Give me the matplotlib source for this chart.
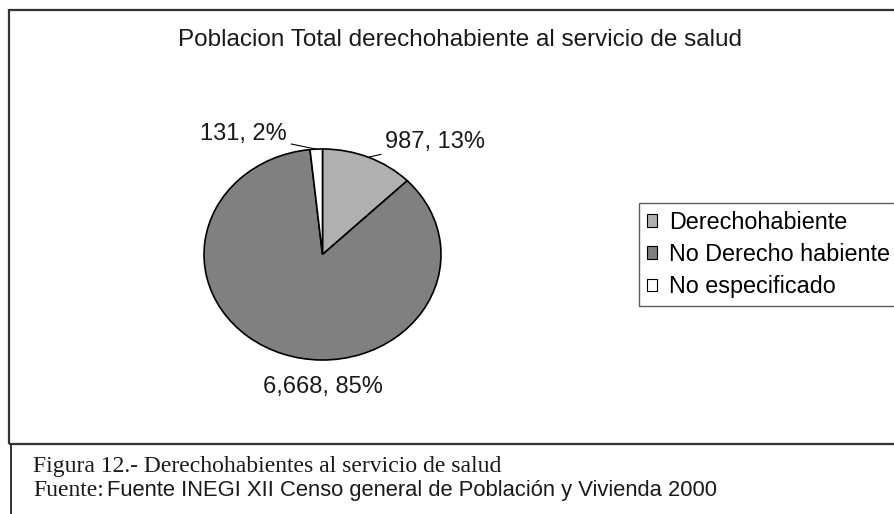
import matplotlib
matplotlib.use("Agg")
import matplotlib.pyplot as plt
import numpy as np
from matplotlib.patches import Rectangle
from matplotlib.lines import Line2D

# ---- data ----
categories = ["Derechohabiente", "No Derecho habiente", "No especificado"]
values = [987, 6668, 131]
pct_labels = ["13%", "85%", "2%"]
colors = ["#b0b0b0", "#808080", "#ffffff"]
title = "Poblacion Total derechohabiente al servicio de salud"
caption1 = "Figura 12.- Derechohabientes al servicio de salud"
caption2_a = "Fuente:"
caption2_b = "Fuente INEGI XII Censo general de Población y Vivienda 2000"

W, H = 895, 514
fig = plt.figure(figsize=(W / 100, H / 100), dpi=100)
fig.patch.set_facecolor("white")

def fx(px):
    return px / W

def fy(py):
    return 1 - py / H

SANS = "Liberation Sans"
SERIF = "Liberation Serif"
TXT = "#1a1a1a"

# chart frame
fig.add_artist(Rectangle((fx(9), fy(444)), fx(900) - fx(9), fy(10) - fy(444),
                         transform=fig.transFigure, fill=False,
                         edgecolor="#333333", lw=1.6, zorder=5))
# caption box left edge
fig.add_artist(Line2D([fx(11), fx(11)], [fy(444), fy(520)],
                      transform=fig.transFigure, color="#333333", lw=1.4))

# title
fig.text(fx(460), fy(40), title, ha="center", va="center",
         fontsize=17.5, family=SANS, color=TXT)

# pie
ax = fig.add_axes([fx(204), fy(360), fx(441) - fx(204), fy(149) - fy(360)])
wedges, _ = ax.pie(values, colors=colors, startangle=90, counterclock=False,
                   wedgeprops=dict(edgecolor="black", linewidth=1.2))
ax.set_aspect("auto")
ax.set_xlim(-1, 1)
ax.set_ylim(-1, 1)
ax.axis("off")

total = float(sum(values))
fracs = np.array(values) / total
start = 90.0
mids = []
for f in fracs:
    mids.append(np.deg2rad(start - f * 360 / 2))
    start -= f * 360

def lab(i):
    return f"{values[i]:,}, {pct_labels[i]}"

label_pos = [(0.53, 1.07, "left"), (0.0, -1.26, "center"), (-0.30, 1.14, "right")]
for i, (tx, ty, ha) in enumerate(label_pos):
    ex, ey = np.cos(mids[i]), np.sin(mids[i])
    if i == 1:
        ax.text(tx, ty, lab(i), ha=ha, va="center", fontsize=17,
                family=SANS, color=TXT, clip_on=False)
    else:
        ax.annotate(lab(i), xy=(ex, ey), xytext=(tx, ty), ha=ha, va="center",
                    fontsize=17, family=SANS, color=TXT,
                    annotation_clip=False,
                    arrowprops=dict(arrowstyle="-", color="black", lw=0.8,
                                    shrinkA=1, shrinkB=0))

# legend
leg = fig.legend(wedges, categories, loc="upper left",
                 bbox_to_anchor=(fx(639), fy(203)), frameon=True,
                 fancybox=False, shadow=False, prop=dict(family=SANS, size=16.8),
                 handlelength=0.45, handleheight=0.45, handletextpad=0.5,
                 labelspacing=0.4, borderpad=0.33, borderaxespad=0)
leg.get_frame().set_edgecolor("#333333")
leg.get_frame().set_linewidth(1.0)
for h in leg.legend_handles:
    h.set_linewidth(0.8)

# caption
fig.text(fx(33), fy(472), caption1, ha="left", va="baseline",
         fontsize=17, family=SERIF, color=TXT)
t = fig.text(fx(33), fy(496), caption2_a, ha="left", va="baseline",
             fontsize=17, family=SERIF, color=TXT)
fig.canvas.draw()
bb = t.get_window_extent()
fig.text((bb.x1 + 3) / W, fy(496), caption2_b, ha="left", va="baseline",
         fontsize=15.8, family=SANS, color=TXT)

fig.savefig("out.png", dpi=100)
